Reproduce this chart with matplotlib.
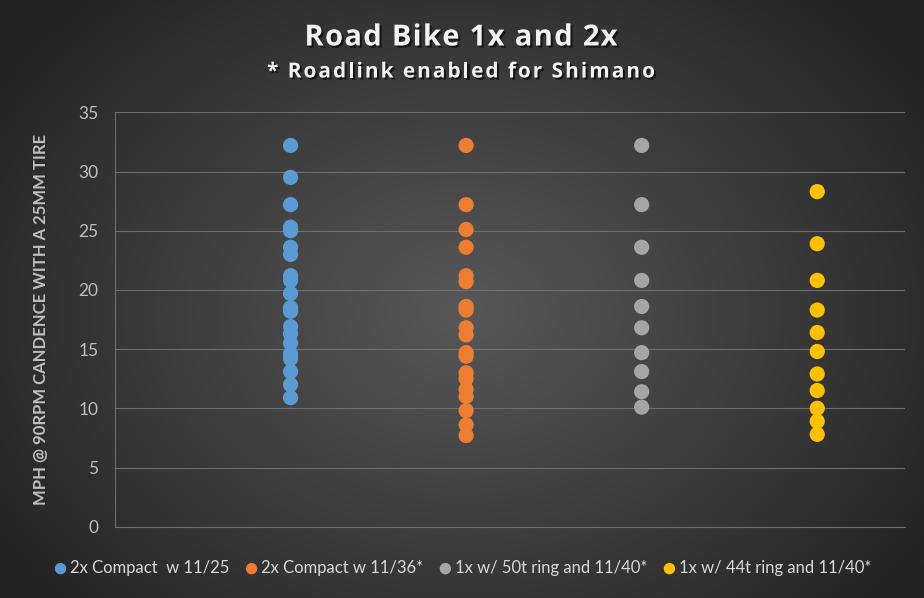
import numpy as np
import matplotlib
matplotlib.use("Agg")
import matplotlib.pyplot as plt
import matplotlib.patheffects as pe
from matplotlib.font_manager import FontProperties

series_names = ["2x Compact  w 11/25", "2x Compact w 11/36*",
                "1x w/ 50t ring and 11/40*", "1x w/ 44t ring and 11/40*"]
series_x = [1, 2, 3, 4]
blue_vals = [32.2, 29.5, 27.2, 25.3, 25.0, 23.6, 23.0, 21.2, 20.8, 19.7, 18.5, 18.2,
             16.9, 16.3, 15.5, 14.6, 14.2, 13.1, 12.0, 10.9]
orange_vals = [32.2, 27.2, 25.1, 23.6, 21.2, 20.7, 18.6, 18.3, 16.8, 16.2, 14.7, 14.4,
               13.0, 12.5, 11.6, 11.0, 9.8, 8.6, 7.7]
gray_vals = [32.2, 27.2, 23.6, 20.8, 18.6, 16.8, 14.7, 13.1, 11.4, 10.1]
yellow_vals = [28.3, 23.9, 20.8, 18.3, 16.4, 14.8, 12.9, 11.5, 10.0, 8.9, 7.8]
colors = ["#5b9bd5", "#ed7d31", "#a5a5a5", "#ffc000"]
y_ticks = [0, 5, 10, 15, 20, 25, 30, 35]
title_text = "Road Bike 1x and 2x"
subtitle_text = "* Roadlink enabled for Shimano"

plt.rcParams['font.family'] = ['Lato', 'DejaVu Sans']

W, H = 924, 598
fig = plt.figure(figsize=(W / 100, H / 100), dpi=100)

# radial gradient background
bg = fig.add_axes([0, 0, 1, 1], zorder=-10)
yy, xx = np.mgrid[0:H, 0:W]
r = np.sqrt(((xx - W * 0.5) / (W * 0.62)) ** 2 + ((yy - H * 0.52) / (H * 0.75)) ** 2)
r = np.clip(r, 0, 1)
c0 = np.array([0x58, 0x58, 0x58]) / 255
c1 = np.array([0x22, 0x22, 0x22]) / 255
img = c0[None, None, :] * (1 - r[..., None]) + c1[None, None, :] * r[..., None]
bg.imshow(img, aspect='auto', extent=[0, 1, 0, 1], origin='upper')
bg.axis('off')

ax = fig.add_axes([115 / W, 1 - 526.7 / H, (905 - 115) / W, (526.7 - 112.3) / H])
ax.patch.set_alpha(0)
ax.set_xlim(0, 4.5)
ax.set_ylim(0, 35)
ax.set_yticks(y_ticks)
ax.set_xticks([])
ax.grid(axis='y', color='#6e6e6e', linewidth=0.8)
ax.set_axisbelow(True)
for s in ['top', 'right']:
    ax.spines[s].set_visible(False)
ax.spines['left'].set_color('#6e6e6e')
ax.spines['left'].set_linewidth(0.8)
ax.spines['bottom'].set_color('#6e6e6e')
ax.spines['bottom'].set_linewidth(0.8)
ax.tick_params(axis='y', length=0, colors='#bfbfbf', labelsize=12.5, pad=12)

all_vals = [blue_vals, orange_vals, gray_vals, yellow_vals]
for xv, vals, col, name in zip(series_x, all_vals, colors, series_names):
    xs = np.full(len(vals), xv, dtype=float)
    ax.scatter(xs, vals, s=120, color=col, edgecolors='none', zorder=3, label=name,
               path_effects=[pe.SimpleLineShadow(offset=(1.2, -1.2), shadow_color='black', alpha=0.5, linewidth=0),
                             pe.Normal()])

ax.set_ylabel("MPH @ 90RPM CANDENCE WITH A 25MM TIRE", color='#bfbfbf', fontsize=12,
              fontweight='bold', labelpad=21)

txt_shadow = [pe.SimplePatchShadow(offset=(1.5, -1.5), shadow_rgbFace='black', alpha=0.6), pe.Normal()]
renderer = fig.canvas.get_renderer()


def tracked_text(s, cx, cy, size, track_px):
    fp = FontProperties(family=['Open Sans', 'DejaVu Sans'], weight='bold', size=size)
    def w(t):
        return renderer.get_text_width_height_descent(t, fp, ismath=False)[0]
    base = w("||")
    adv = [w("|" + ch + "|") - base for ch in s]
    total = sum(adv) + track_px * (len(s) - 1)
    x = cx - total / 2
    for ch, a in zip(s, adv):
        if ch != " ":
            fig.text(x / W, 1 - cy / H, ch, ha='left', va='center', color='#f2f2f2',
                     fontproperties=fp, path_effects=txt_shadow)
        x += a + track_px


tracked_text(title_text, 461, 38, 21, 1.3)
tracked_text(subtitle_text, 461, 72, 15, 2.0)

leg = fig.legend(loc='center', bbox_to_anchor=(0.5, 1 - 568 / H), ncol=4, frameon=False,
                 fontsize=12, handletextpad=0.1, columnspacing=0.9, markerscale=0.75,
                 handlelength=0.9, labelcolor='#d9d9d9')

fig.savefig("out.png", dpi=100)
